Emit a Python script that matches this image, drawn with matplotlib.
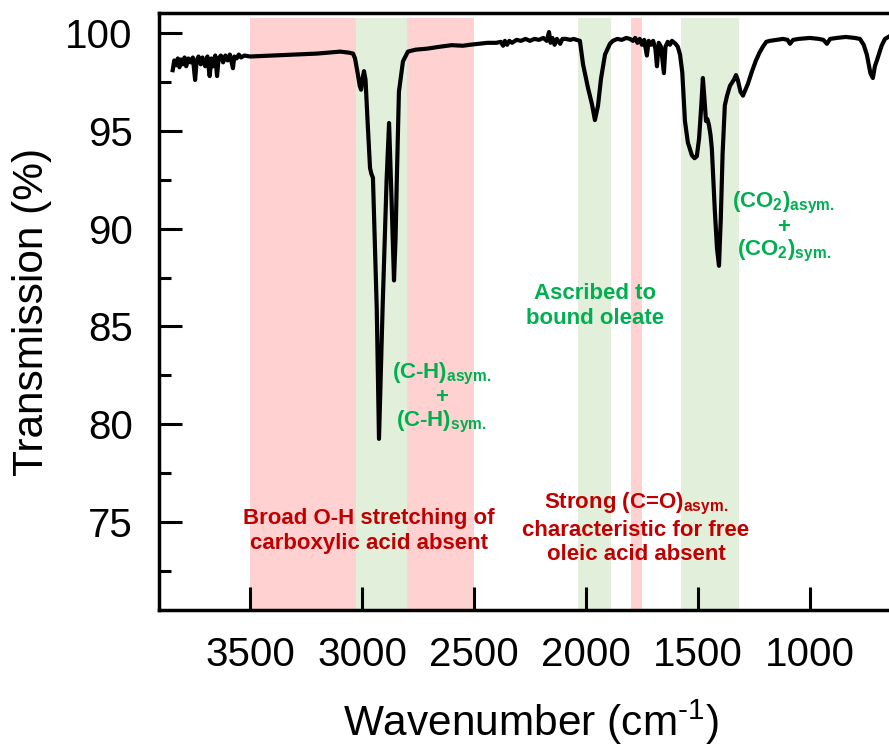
import matplotlib.pyplot as plt

# FTIR trace (wavenumber in cm-1, transmission in %)
wavenumber = [
    3845, 3838, 3830, 3822, 3815, 3808, 3800, 3792, 3785, 3775, 3765, 3755,
    3745, 3738, 3730, 3720, 3712, 3700, 3690, 3680, 3672, 3665, 3655, 3647,
    3640, 3630, 3620, 3610, 3600, 3590, 3576, 3570, 3560, 3550, 3540, 3525,
    3500, 3400, 3300, 3200, 3098, 3060, 3040,
    3031, 3020, 3010, 3004, 2997, 2991, 2984, 2975, 2964, 2958, 2951, 2934,
    2924, 2908, 2890, 2879, 2868, 2857, 2850, 2844, 2835, 2817, 2795, 2760,
    2710, 2652, 2600, 2550, 2518, 2480, 2440, 2400, 2380, 2370, 2362, 2352,
    2342, 2330, 2310, 2290, 2270, 2250, 2230, 2210, 2190, 2175, 2165, 2158,
    2150, 2140, 2130, 2115, 2105, 2090, 2070, 2055, 2042, 2027, 2013, 1991,
    1973, 1960, 1946, 1933, 1915, 1893, 1880, 1860, 1840, 1820, 1804, 1790,
    1780, 1770, 1760, 1750, 1740, 1728, 1720, 1710, 1700, 1690, 1683, 1675,
    1665, 1652, 1645, 1635, 1625, 1616, 1600, 1590, 1580, 1570, 1558, 1545,
    1527, 1515, 1505, 1495, 1485, 1478, 1472, 1464, 1458, 1451, 1444, 1438,
    1425, 1415, 1406, 1398, 1390, 1380, 1370, 1357, 1340, 1330, 1322, 1310,
    1299, 1288, 1277, 1260, 1241, 1225, 1210, 1195, 1179, 1150, 1120, 1100,
    1089, 1075, 1050, 1000, 960, 940, 924, 910, 880, 840, 800, 777, 760, 746,
    730, 719, 710, 701, 690, 680, 665, 650,
]
transmission = [
    98.1, 98.6, 98.35, 98.7, 98.25, 98.65, 98.4, 98.75, 98.3, 98.7, 98.5, 98.75,
    97.6, 98.6, 98.8, 98.4, 98.75, 98.3, 98.8, 97.8, 98.7, 98.3, 98.85, 97.8,
    98.7, 98.85, 98.5, 98.85, 98.6, 98.9, 98.2, 98.8, 98.7, 98.9, 98.75, 98.85,
    98.8, 98.85, 98.9, 98.95, 99.05, 99.0, 98.95,
    98.7, 98.0, 97.3, 97.1, 97.7, 98.05, 97.6, 95.5, 93.1, 92.8, 92.6, 85.9,
    79.25, 85.9, 92.5, 95.4, 91.5, 87.35, 89.5, 92.7, 97.0, 98.55, 99.05, 99.15,
    99.2, 99.3, 99.38, 99.35, 99.4, 99.45, 99.5, 99.5, 99.55, 99.35, 99.6, 99.4,
    99.6, 99.5, 99.65, 99.6, 99.7, 99.6, 99.7, 99.65, 99.75, 99.6, 100.05, 99.5,
    99.75, 99.4, 99.7, 99.45, 99.7, 99.7, 99.65, 99.7, 99.65, 99.6, 98.4, 97.2,
    96.35, 95.55, 96.3, 97.65, 98.9, 99.45, 99.6, 99.7, 99.65, 99.75, 99.7, 99.6,
    99.75, 99.5, 99.7, 99.4, 99.65, 98.85, 99.6, 99.4, 99.6, 99.2, 98.3, 99.5,
    99.3, 97.95, 99.3, 99.55, 99.4, 99.6, 99.45, 99.3, 98.9, 98.0, 95.5, 94.4,
    93.75, 93.6, 93.7, 94.6, 96.3, 97.7, 96.8, 95.5, 95.6, 95.3, 94.8, 94.1,
    91.0, 89.0, 88.1, 90.5, 93.8, 96.3, 96.8, 97.3, 97.6, 97.85, 97.6, 97.0,
    96.8, 97.1, 97.4, 98.0, 98.6, 99.0, 99.3, 99.55, 99.6, 99.65, 99.7, 99.65,
    99.45, 99.65, 99.7, 99.75, 99.7, 99.65, 99.45, 99.7, 99.75, 99.8, 99.75,
    99.7, 99.4, 98.9, 97.95, 97.7, 98.3, 98.6, 99.0, 99.35, 99.7, 99.8,
]

# shaded regions (start, end in cm-1)
red_bands = [(3500, 2500), (1800, 1750)]
green_bands = [(3025, 2800), (2035, 1890), (1575, 1318)]

plt.rcParams["font.family"] = "Liberation Sans"
plt.rcParams["mathtext.fontset"] = "custom"
plt.rcParams["mathtext.rm"] = "Liberation Sans"
plt.rcParams["mathtext.bf"] = "Liberation Sans:bold"

red = "#C00000"
green = "#00B050"

fig = plt.figure(figsize=(8.89, 7.53), dpi=100)
ax = fig.add_axes([0.1789, 0.1899, 0.8211, 0.7922])

for lo, hi in red_bands:
    ax.axvspan(lo, hi, ymax=0.992, color="#FFD1D1", lw=0, zorder=0)
for lo, hi in green_bands:
    ax.axvspan(lo, hi, ymax=0.992, color="#E2EFDA", lw=0, zorder=1)

ax.plot(wavenumber, transmission, color="black", lw=3.0, zorder=3,
        solid_joinstyle="round")

ax.set_xlim(3906, 647)
ax.set_ylim(70.5, 101.0)
ax.set_xticks([3500, 3000, 2500, 2000, 1500, 1000])
ax.set_yticks([75, 80, 85, 90, 95, 100])
ax.set_yticks([72.5, 77.5, 82.5, 87.5, 92.5, 97.5], minor=True)
ax.tick_params(which="major", direction="in", length=16.5, width=2.2,
               labelsize=29, pad=19)
ax.tick_params(which="minor", direction="in", length=8.6, width=2.2)
ax.spines["right"].set_visible(False)
for side in ["left", "top", "bottom"]:
    ax.spines[side].set_linewidth(2.5)

ax.set_xlabel(r"Wavenumber (cm$^{\text{-1}}$)", fontsize=30.5)
ax.set_ylabel("Transmission (%)", fontsize=30.5)
ax.xaxis.label.set_va("center")
ax.yaxis.label.set_va("center")
ax.xaxis.set_label_coords(0.51, -0.188)
ax.yaxis.set_label_coords(-0.174, 0.5)

txt = dict(ha="center", va="center", fontsize=16, fontweight="bold")
ax.text(2969, 74.54, "Broad O-H stretching of\ncarboxylic acid absent",
        color=red, linespacing=1.25, **txt)
ax.text(1777, 74.69,
        "Strong (C=O)$_{\\mathbf{asym.}}$\ncharacteristic for free\n"
        "oleic acid absent",
        color=red, linespacing=1.2, **txt)
ax.text(2643, 81.34,
        "(C-H)$_{\\mathbf{asym.}}$\n+\n(C-H)$_{\\mathbf{sym.}}$",
        color=green, linespacing=1.05, **txt)
ax.text(1960, 86.04, "Ascribed to\nbound oleate",
        color=green, linespacing=1.25, **txt)
ax.text(1116, 90.08,
        "(CO$_{\\mathbf{2}}$)$_{\\mathbf{asym.}}$\n+\n"
        "(CO$_{\\mathbf{2}}$)$_{\\mathbf{sym.}}$",
        color=green, linespacing=1.05, **txt)

fig.savefig("out.png", dpi=100)
